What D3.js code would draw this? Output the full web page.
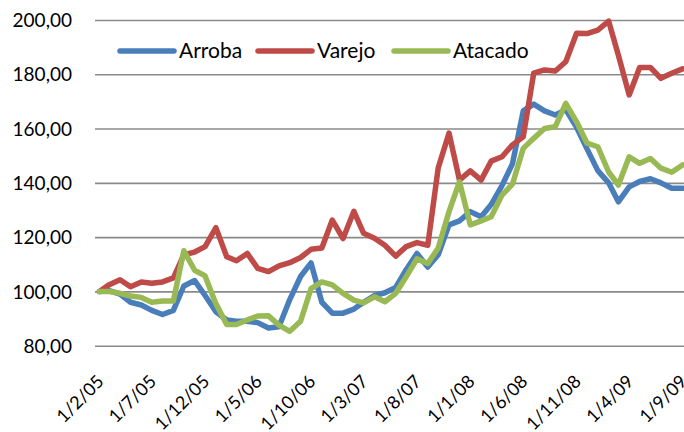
<!DOCTYPE html>
<html>
<head>
<meta charset="utf-8">
<script src="https://cdn.jsdelivr.net/npm/d3@7"></script>
<style>
  body { margin: 0; background: #fff; }
  svg text { font-family: Lato, "Open Sans", sans-serif; fill: #000; }
</style>
</head>
<body>
<div id="chart"></div>
<script>
//monthly series, Feb 2005 .. Sep 2009 (index 100 = Feb 2005)
const seriesNames = ['Arroba', 'Varejo', 'Atacado'];
const seriesColors = ['#4a7ebb', '#be4b48', '#98b954'];

const arroba = [100, 100.3, 99, 96, 95, 93, 91.5, 93, 102, 104,
  98.5, 92.5, 89.5, 89, 89, 88.5, 86.5, 87, 97, 105.5,
  110.5, 96, 92, 92, 93.5, 96, 98.5, 99.5, 101.5, 108,
  114, 109, 113.5, 124.5, 126, 129.4, 127.5, 132, 139, 147,
  166.5, 169, 166.5, 165, 167, 160.5, 152.5, 144.5, 140, 133,
  138.5, 140.5, 141.5, 140, 138, 138];

const varejo = [100, 102.5, 104.3, 101.7, 103.5, 103, 103.5, 105, 113.5, 114.5,
  116.5, 123.5, 112.8, 111.3, 114, 108.5, 107.3, 109.4, 110.6, 112.5,
  115.5, 116, 126.3, 119.5, 129.5, 121.4, 119.6, 117, 113, 116.5,
  118, 117, 145.5, 158.3, 141, 144.4, 141, 148, 149.6, 154,
  157, 180.4, 181.6, 181.2, 184.6, 195.1, 195, 196.3, 199.6, 187,
  172.4, 182.5, 182.5, 178.5, 180.4, 182];

const atacado = [100, 100, 99.3, 98.3, 97.8, 96, 96.5, 96.5, 115, 107.8,
  105.7, 95.5, 87.8, 87.8, 89.5, 90.9, 91, 87.6, 85.3, 89,
  101, 103.5, 102.4, 99.3, 96.8, 95.8, 98, 96.2, 99.3, 105.4,
  112, 110.3, 116, 129.4, 140.4, 124.5, 126, 127.5, 135.5, 139.5,
  152.7, 156.4, 160, 160.7, 169.3, 162.5, 154.6, 153.3, 144, 139.2,
  149.6, 147.2, 149, 145.4, 143.9, 146.6];

const yTicks = [80, 100, 120, 140, 160, 180, 200];

(function(){
  const width = 684, height = 432;
  const months = d3.timeMonth.range(new Date(2005, 1, 1), new Date(2009, 9, 1));
  const xTicks = months.filter((d, i) => i % 5 == 0);
  const fmtDate = d3.timeFormat('%-d/%-m/%y');
  const fmtNum = d => d3.format('.2f')(d).replace('.', ',');

  const svg = d3.select('#chart').append('svg')
    .attr('width', width)
    .attr('height', height);

  const x = d3.scaleTime()
    .domain([months[0], months[months.length - 1]])
    .range([99.5, 682.5]);
  const y = d3.scaleLinear()
    .domain([80, 200])
    .range([345.7, 20]);

  //gridlines + y labels
  const yAxis = d3.axisLeft(y)
    .tickValues(yTicks)
    .tickSize(-(width - 95))
    .tickPadding(23)
    .tickFormat(fmtNum);
  const gy = svg.append('g')
    .attr('transform', 'translate(95,0)')
    .call(yAxis);
  gy.select('.domain').remove();
  gy.selectAll('line').attr('stroke', '#8a8a8a').attr('stroke-width', 1.6);
  gy.selectAll('text').style('font-size', '19px').attr('dy', '0.35em');

  //rotated date labels
  const xAxis = d3.axisBottom(x)
    .tickValues(xTicks)
    .tickSize(0)
    .tickFormat(fmtDate);
  const gx = svg.append('g')
    .attr('transform', 'translate(0,345.7)')
    .call(xAxis);
  gx.select('.domain').remove();
  gx.selectAll('text')
    .style('font-size', '18px')
    .attr('text-anchor', 'end')
    .attr('y', 0)
    .attr('dy', 0)
    .attr('transform', 'translate(5,37) rotate(-45)');

  const line = d3.line()
    .x((d, i) => x(months[i]))
    .y(d => y(d));

  const allSeries = [arroba, varejo, atacado];
  svg.selectAll('.series')
    .data(allSeries)
    .enter()
    .append('path')
    .attr('class', 'series')
    .attr('d', line)
    .attr('fill', 'none')
    .attr('stroke', (d, i) => seriesColors[i])
    .attr('stroke-width', 5.5)
    .attr('stroke-linejoin', 'round')
    .attr('stroke-linecap', 'round');

  //legend
  const legendX = [120, 258, 394];
  const legend = svg.selectAll('.legend')
    .data(seriesNames)
    .enter()
    .append('g')
    .attr('class', 'legend')
    .attr('transform', (d, i) => 'translate(' + legendX[i] + ',51)');
  legend.append('line')
    .attr('x1', 0).attr('x2', 54)
    .attr('stroke', (d, i) => seriesColors[i])
    .attr('stroke-width', 5.5)
    .attr('stroke-linecap', 'round');
  legend.append('text')
    .attr('x', 59)
    .attr('dy', '0.35em')
    .style('font-size', '21px')
    .text(d => d);
})();
</script>
</body>
</html>
